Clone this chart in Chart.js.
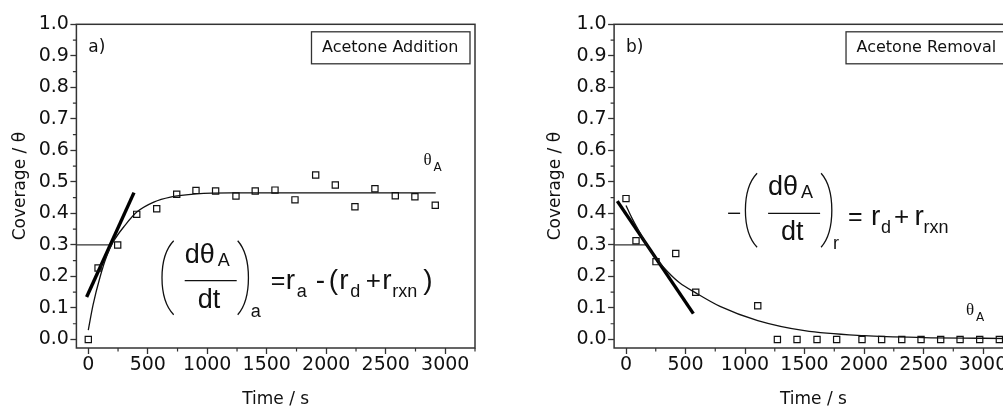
<!DOCTYPE html>
<html>
<head>
<meta charset="utf-8">
<script src="https://cdn.jsdelivr.net/npm/chart.js@4.4.1/dist/chart.umd.min.js"></script>
<style>
html,body{margin:0;padding:0;background:#fff;overflow:hidden;}
#wrap{position:relative;width:1003px;height:407px;overflow:hidden;}
.box{position:absolute;top:0;height:407px;}
#boxA{left:0;width:500px;}
#boxR{left:500px;width:520px;}
</style>
</head>
<body>
<div id="wrap">
  <div class="box" id="boxA"><canvas id="addChart"></canvas></div>
  <div class="box" id="boxR"><canvas id="remChart"></canvas></div>
</div>
<script>
// axis ticks
const xMajor = [0, 500, 1000, 1500, 2000, 2500, 3000];
const xMinor = [250, 750, 1250, 1750, 2250, 2750, 3250];
const yMajor = [0, 0.1, 0.2, 0.3, 0.4, 0.5, 0.6, 0.7, 0.8, 0.9, 1.0];
const yMinor = [0.05, 0.15, 0.25, 0.35, 0.45, 0.55, 0.65, 0.75, 0.85, 0.95];

// a) Acetone addition
const timeAdd  = [0, 82, 247, 407, 575, 743, 905, 1070, 1241, 1403, 1569, 1737, 1911, 2076, 2241, 2409, 2580, 2745, 2916];
const thetaAdd = [0.0, 0.227, 0.30, 0.397, 0.415, 0.461, 0.473, 0.471, 0.455, 0.471, 0.474, 0.443, 0.522, 0.49, 0.421, 0.478, 0.456, 0.453, 0.426];
const fitAddTime = [0, 40, 100, 155, 210, 310, 410, 550, 690, 910, 1200, 1600, 2920];
const fitAdd     = [0.03, 0.11, 0.20, 0.265, 0.31, 0.363, 0.405, 0.436, 0.452, 0.462, 0.465, 0.465, 0.465];
const tanAddTime = [-14, 384];
const tanAdd     = [0.135, 0.466];
const refAddTime = [-100, 183];
const refAdd     = [0.3, 0.3];

// b) Acetone removal
const timeRem  = [0, 84, 252, 418, 586, 1107, 1272, 1437, 1605, 1770, 1983, 2148, 2317, 2479, 2644, 2807, 2972, 3137];
const thetaRem = [0.447, 0.313, 0.247, 0.273, 0.150, 0.107, 0, 0, 0, 0, 0, 0, 0, 0, 0, 0, 0, 0];
const fitRemTime = [0, 50, 100, 175, 250, 350, 450, 586, 790, 1107, 1500, 2000, 2500, 3000, 3250];
const fitRem     = [0.425, 0.385, 0.35, 0.30, 0.258, 0.215, 0.18, 0.148, 0.105, 0.06, 0.028, 0.012, 0.006, 0.004, 0.003];
const tanRemTime = [-73, 566];
const tanRem     = [0.439, 0.082];
const refRemTime = [-100, 175];
const refRem     = [0.3, 0.3];

const FONT = 'DejaVu Sans';
const EQ = 'Liberation Sans';
const INK = '#111';

function pts(xs, ys) { return xs.map((v, i) => ({x: v, y: ys[i]})); }

// frame + minor ticks
const framePlugin = {
  id: 'frame',
  afterDraw(chart) {
    const {ctx, chartArea: a, scales: {x, y}} = chart;
    ctx.save();
    ctx.strokeStyle = '#333';
    ctx.lineWidth = 1.5;
    ctx.strokeRect(a.left, a.top, a.right - a.left, a.bottom - a.top);
    ctx.lineWidth = 1.2;
    ctx.beginPath();
    xMinor.forEach(v => { const p = x.getPixelForValue(v); ctx.moveTo(p, a.bottom); ctx.lineTo(p, a.bottom + 3.5); });
    yMinor.forEach(v => { const p = y.getPixelForValue(v); ctx.moveTo(a.left, p); ctx.lineTo(a.left - 3.5, p); });
    ctx.stroke();
    ctx.restore();
  }
};

function txt(ctx, s, x, y, size, family) {
  ctx.font = size + 'px "' + (family || EQ) + '"';
  ctx.fillText(s, x, y);
}

// draw text so that its ink starts at x
function ink(ctx, s, x, y, size) {
  ctx.font = size + 'px "' + EQ + '"';
  const m = ctx.measureText(s);
  ctx.fillText(s, x + m.actualBoundingBoxLeft, y);
}

function paren(ctx, x, top, bot, w, open) {
  const h = bot - top;
  ctx.beginPath();
  if (open) {
    ctx.moveTo(x + w, top);
    ctx.bezierCurveTo(x - w * 0.3, top + h * 0.22, x - w * 0.3, bot - h * 0.22, x + w, bot);
  } else {
    ctx.moveTo(x, top);
    ctx.bezierCurveTo(x + w * 1.3, top + h * 0.22, x + w * 1.3, bot - h * 0.22, x, bot);
  }
  ctx.stroke();
}

// (dθA/dt)_sub block, xp = left of "(", yf = fraction bar
function fracBlock(ctx, xp, yf, sub) {
  ctx.lineWidth = 1.3;
  paren(ctx, xp, yf - 40, yf + 34, 12, true);
  ink(ctx, 'dθ', xp + 24, yf - 18, 27);
  ink(ctx, 'A', xp + 56, yf - 15, 18);
  ctx.beginPath();
  ctx.moveTo(xp + 23, yf); ctx.lineTo(xp + 75, yf);
  ctx.stroke();
  ink(ctx, 'dt', xp + 37, yf + 27, 27);
  paren(ctx, xp + 76, yf - 40, yf + 34, 11, false);
  ink(ctx, sub, xp + 89, yf + 36, 18);
}

function labelBox(ctx, a, label) {
  ctx.font = '16px "' + FONT + '"';
  const w = ctx.measureText(label).width + 22;
  const r = a.right - 5, t = a.top + 7.5;
  ctx.lineWidth = 1.3;
  ctx.strokeStyle = '#333';
  ctx.strokeRect(r - w, t, w, 32);
  ctx.fillStyle = INK;
  ctx.textBaseline = 'middle';
  ctx.fillText(label, r - w + 10.5, t + 16.5);
  ctx.textBaseline = 'alphabetic';
}

function thetaLabel(ctx, x, y) {
  txt(ctx, 'θ', x, y, 17, 'Liberation Serif');
  txt(ctx, 'A', x + 10, y + 6, 12, FONT);
}

const addNotes = {
  id: 'addNotes',
  afterDraw(chart) {
    const {ctx, chartArea: a, scales: {x, y}} = chart;
    ctx.save();
    ctx.fillStyle = INK; ctx.strokeStyle = INK;
    ctx.textBaseline = 'middle';
    txt(ctx, 'a)', x.getPixelForValue(0), a.top + 23, 17, FONT);
    ctx.textBaseline = 'alphabetic';
    labelBox(ctx, a, 'Acetone Addition');
    ctx.strokeStyle = INK;
    thetaLabel(ctx, x.getPixelForValue(2817), y.getPixelForValue(0.553));
    const xp = a.left + 85.3, yf = a.top + 256.4;
    fracBlock(ctx, xp, yf, 'a');
    const b = yf + 8, s = yf + 16;
    ink(ctx, '=', xp + 110, b, 25);
    ink(ctx, 'r', xp + 125, b, 28);
    ink(ctx, 'a', xp + 135, s, 18);
    ink(ctx, '-', xp + 155, b, 28);
    ink(ctx, '(', xp + 168, b, 28);
    ink(ctx, 'r', xp + 178.5, b, 28);
    ink(ctx, 'd', xp + 188.5, s, 18);
    ink(ctx, '+', xp + 205, b, 26);
    ink(ctx, 'r', xp + 221.5, b, 28);
    ink(ctx, 'rxn', xp + 231.5, s, 18);
    ink(ctx, ')', xp + 261.5, b, 28);
    ctx.restore();
  }
};

const remNotes = {
  id: 'remNotes',
  afterDraw(chart) {
    const {ctx, chartArea: a, scales: {x, y}} = chart;
    ctx.save();
    ctx.fillStyle = INK; ctx.strokeStyle = INK;
    ctx.textBaseline = 'middle';
    txt(ctx, 'b)', x.getPixelForValue(0), a.top + 23, 17, FONT);
    ctx.textBaseline = 'alphabetic';
    labelBox(ctx, a, 'Acetone Removal');
    ctx.strokeStyle = INK;
    thetaLabel(ctx, x.getPixelForValue(2857), y.getPixelForValue(0.077));
    const xp = a.left + 131, yf = a.top + 189;
    ctx.lineWidth = 1.4;
    ctx.beginPath();
    ctx.moveTo(xp - 17, yf); ctx.lineTo(xp - 5, yf);
    ctx.stroke();
    fracBlock(ctx, xp, yf, 'r');
    const b = yf + 12, s = yf + 20;
    ink(ctx, '=', xp + 104, b, 25);
    ink(ctx, 'r', xp + 127, b, 28);
    ink(ctx, 'd', xp + 136, s, 18);
    ink(ctx, '+', xp + 150, b, 26);
    ink(ctx, 'r', xp + 170.5, b, 28);
    ink(ctx, 'rxn', xp + 179.5, s, 18);
    ctx.restore();
  }
};

function makeChart(id, d, pad, titlePad, notes) {
  return new Chart(document.getElementById(id), {
    type: 'scatter',
    data: {
      datasets: [
        {data: pts(d.t, d.th), showLine: false, pointStyle: 'rect', pointRadius: 4.4,
         pointBorderWidth: 1.2, pointBorderColor: INK, pointBackgroundColor: 'rgba(0,0,0,0)'},
        {data: pts(d.ft, d.f), showLine: true, pointRadius: 0, borderColor: INK, borderWidth: 1.3,
         cubicInterpolationMode: 'monotone'},
        {data: pts(d.tt, d.tn), showLine: true, pointRadius: 0, borderColor: '#000', borderWidth: 3.4},
        {data: pts(d.rt, d.r), showLine: true, pointRadius: 0, borderColor: '#333', borderWidth: 1.2}
      ]
    },
    options: {
      responsive: true,
      maintainAspectRatio: false,
      animation: false,
      events: [],
      layout: {padding: pad},
      plugins: {legend: {display: false}, tooltip: {enabled: false}},
      scales: {
        x: {
          type: 'linear', min: -100, max: 3250,
          afterBuildTicks: s => { s.ticks = xMajor.map(v => ({value: v})); },
          afterFit: s => { s.height = 59; },
          grid: {drawOnChartArea: false, drawTicks: true, tickLength: 6, tickColor: '#333', tickWidth: 1.3},
          border: {display: false},
          ticks: {color: INK, font: {family: FONT, size: 19}, padding: 0, maxRotation: 0, callback: v => v},
          title: {display: true, text: 'Time / s', color: INK, font: {family: FONT, size: 17, lineHeight: 0.82},
                  padding: {top: 0, bottom: 0}}
        },
        y: {
          type: 'linear', min: -0.027, max: 1.0,
          afterBuildTicks: s => { s.ticks = yMajor.map(v => ({value: v})); },
          afterFit: s => { s.width = 76.4; },
          grid: {drawOnChartArea: false, drawTicks: true, tickLength: 6, tickColor: '#333', tickWidth: 1.3},
          border: {display: false},
          ticks: {color: INK, font: {family: FONT, size: 19}, padding: 1.5, callback: v => v.toFixed(1)},
          title: {display: true, text: 'Coverage / θ', color: INK, font: {family: FONT, size: 17, lineHeight: 1.2},
                  padding: {top: titlePad, bottom: 0}}
        }
      }
    },
    plugins: [framePlugin, notes]
  });
}

makeChart('addChart',
  {t: timeAdd, th: thetaAdd, ft: fitAddTime, f: fitAdd, tt: tanAddTime, tn: tanAdd, rt: refAddTime, r: refAdd},
  {left: 0, right: 25, top: 24.3, bottom: 0}, 10.4, addNotes);

makeChart('remChart',
  {t: timeRem, th: thetaRem, ft: fitRemTime, f: fitRem, tt: tanRemTime, tn: tanRem, rt: refRemTime, r: refRem},
  {left: 37.7, right: 7.2, top: 24.3, bottom: 0}, 7.4, remNotes);
</script>
</body>
</html>
